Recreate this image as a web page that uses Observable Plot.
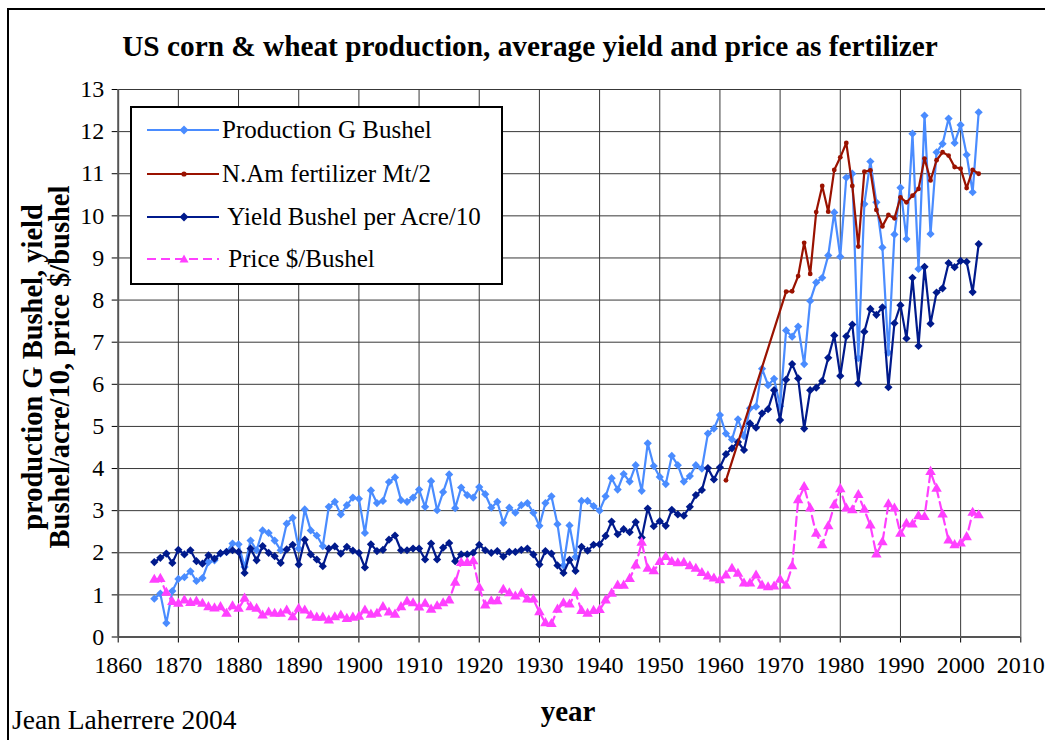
<!DOCTYPE html>
<html>
<head>
<meta charset="utf-8">
<script src="https://cdn.jsdelivr.net/npm/d3@7"></script>
<script src="https://cdn.jsdelivr.net/npm/@observablehq/plot@0.6"></script>
<style>
  html, body { margin: 0; padding: 0; background: #fff; }
  #wrap { position: relative; width: 1045px; height: 740px; overflow: hidden; font-family: "Liberation Serif", "Times New Roman", serif; color: #000; }
  #frame { position: absolute; left: 7px; top: 8px; width: 1100px; height: 800px; border-left: 2px solid #000; border-top: 2px solid #000; }
  #chart { position: absolute; left: 0; top: 0; }
  .txt { position: absolute; white-space: nowrap; }
  #title { left: 530px; top: 46px; transform: translate(-50%, -50%); font-weight: bold; font-size: 29.3px; }
  #ylab { left: 46px; top: 367px; transform: translate(-50%, -50%) rotate(-90deg); font-weight: bold; font-size: 28.5px; line-height: 27px; text-align: center; }
  #xlab { left: 568px; top: 711px; transform: translate(-50%, -50%); font-weight: bold; font-size: 29px; }
  #caption { left: 12px; top: 720px; transform: translate(0, -50%); font-size: 27.5px; }
  #legend { position: absolute; left: 130px; top: 106px; width: 369px; height: 175px; border: 2px solid #000; background: #fff; }
  .lrow { position: absolute; left: 0; height: 30px; transform: translateY(-50%); display: flex; align-items: center; }
  .lrow svg { margin-left: 15px; }
  .lrow span { font-size: 25px; margin-left: 3px; font-family: "Liberation Serif", "Times New Roman", serif; }
</style>
</head>
<body>
<div id="wrap">
  <div id="frame"></div>
  <div id="chart"></div>
  <div id="title" class="txt">US corn &amp; wheat production, average yield and price as fertilizer</div>
  <div id="ylab" class="txt">production G Bushel, yield<br>Bushel/acre/10, price $/bushel</div>
  <div id="xlab" class="txt">year</div>
  <div id="caption" class="txt">Jean Laherrere 2004</div>
  <div id="legend"></div>
</div>
<script>
// ---------- data ----------
const years = [1866,1867,1868,1869,1870,1871,1872,1873,1874,1875,1876,1877,1878,1879,1880,1881,1882,1883,1884,1885,1886,1887,1888,1889,1890,1891,1892,1893,1894,1895,1896,1897,1898,1899,1900,1901,1902,1903,1904,1905,1906,1907,1908,1909,1910,1911,1912,1913,1914,1915,1916,1917,1918,1919,1920,1921,1922,1923,1924,1925,1926,1927,1928,1929,1930,1931,1932,1933,1934,1935,1936,1937,1938,1939,1940,1941,1942,1943,1944,1945,1946,1947,1948,1949,1950,1951,1952,1953,1954,1955,1956,1957,1958,1959,1960,1961,1962,1963,1964,1965,1966,1967,1968,1969,1970,1971,1972,1973,1974,1975,1976,1977,1978,1979,1980,1981,1982,1983,1984,1985,1986,1987,1988,1989,1990,1991,1992,1993,1994,1995,1996,1997,1998,1999,2000,2001,2002,2003];

const production = [0.91,1.03,0.33,1.09,1.38,1.42,1.56,1.33,1.40,1.78,1.82,1.98,2.02,2.22,2.20,1.66,2.29,2.06,2.53,2.47,2.29,2.06,2.69,2.83,2.10,3.03,2.53,2.41,2.16,3.09,3.21,2.91,3.13,3.31,3.28,2.47,3.48,3.18,3.23,3.68,3.79,3.25,3.21,3.31,3.50,3.09,3.70,3.01,3.44,3.86,3.06,3.55,3.37,3.31,3.56,3.39,3.07,3.21,2.71,3.07,2.95,3.13,3.18,2.95,2.64,3.18,3.34,2.68,1.70,2.65,1.90,3.23,3.23,3.11,3.00,3.34,3.77,3.50,3.87,3.69,4.08,3.47,4.60,4.06,3.80,3.63,4.30,4.08,3.69,3.82,4.08,4.00,4.83,4.95,5.27,4.83,4.69,5.17,4.77,5.43,5.47,6.37,5.98,6.13,5.48,7.28,7.13,7.37,6.48,7.98,8.42,8.53,9.06,10.08,9.03,10.91,11.00,6.62,10.28,11.29,10.32,9.25,6.75,9.56,10.67,9.45,11.95,8.74,12.38,9.57,11.51,11.71,12.31,11.73,12.16,11.45,10.56,12.46];

const yieldPerAcre = [1.78,1.88,1.98,1.76,2.07,1.96,2.06,1.80,1.74,1.94,1.86,1.99,2.02,2.06,2.02,1.52,2.10,1.82,2.16,2.00,1.92,1.76,2.08,2.19,1.72,2.31,1.96,1.84,1.68,2.10,2.15,1.98,2.14,2.05,2.00,1.65,2.20,2.04,2.07,2.31,2.41,2.06,2.06,2.10,2.10,1.84,2.22,1.84,2.12,2.23,1.80,1.96,1.96,2.00,2.19,2.06,2.00,2.04,1.91,2.02,2.02,2.07,2.10,1.96,1.72,2.04,1.98,1.70,1.52,1.83,1.57,2.14,2.05,2.19,2.20,2.40,2.74,2.44,2.56,2.49,2.73,2.36,3.05,2.63,2.75,2.64,3.02,2.91,2.88,3.09,3.37,3.49,4.01,3.74,4.03,4.34,4.48,4.63,4.44,5.07,4.97,5.31,5.41,5.86,5.15,6.11,6.48,6.14,4.95,5.86,5.92,6.08,6.63,7.16,6.20,7.14,7.42,6.02,7.25,7.79,7.65,7.83,5.93,7.45,7.88,7.09,8.53,6.91,8.79,7.44,8.18,8.28,8.88,8.78,8.93,8.91,8.19,9.33];

const price = [1.36,1.38,1.05,0.83,0.79,0.87,0.81,0.84,0.79,0.71,0.68,0.71,0.55,0.73,0.67,0.91,0.71,0.67,0.51,0.58,0.55,0.55,0.63,0.47,0.67,0.63,0.51,0.46,0.46,0.39,0.47,0.51,0.43,0.46,0.48,0.63,0.53,0.55,0.71,0.58,0.53,0.71,0.84,0.80,0.70,0.79,0.65,0.73,0.80,0.87,1.29,1.76,1.76,1.80,1.17,0.75,0.85,0.85,1.12,1.04,0.96,1.03,0.89,0.89,0.59,0.33,0.31,0.65,0.80,0.77,1.05,0.62,0.55,0.62,0.64,0.87,1.03,1.22,1.22,1.38,1.70,2.24,1.62,1.56,1.78,1.90,1.78,1.75,1.76,1.68,1.62,1.52,1.44,1.39,1.35,1.46,1.62,1.50,1.27,1.27,1.46,1.22,1.18,1.20,1.36,1.22,1.68,3.25,3.56,3.05,2.45,2.18,2.63,3.13,3.51,3.05,3.01,3.37,3.02,2.65,1.96,2.25,3.15,3.05,2.45,2.69,2.67,2.87,2.85,3.92,3.52,2.91,2.29,2.18,2.22,2.37,2.95,2.89];

const fertYears = [1961,1971,1972,1973,1974,1975,1976,1977,1978,1979,1980,1981,1982,1983,1984,1985,1986,1987,1988,1989,1990,1991,1992,1993,1994,1995,1996,1997,1998,1999,2000,2001,2002,2003];
const fertilizer = [3.72,8.20,8.21,8.57,9.36,8.62,10.09,10.71,10.10,11.09,11.39,11.73,10.71,9.27,11.05,11.08,10.14,9.75,10.02,9.94,10.44,10.32,10.48,10.64,11.36,10.84,11.32,11.51,11.43,11.16,11.12,10.66,11.09,11.00];

const xTicks = [1860,1870,1880,1890,1900,1910,1920,1930,1940,1950,1960,1970,1980,1990,2000,2010];
const yTicks = [0,1,2,3,4,5,6,7,8,9,10,11,12,13];

const seriesNames = ["Production G Bushel", "N.Am fertilizer Mt/2", " Yield Bushel per Acre/10", " Price $/Bushel"];
const seriesColors = ["#4a8cff", "#9a1200", "#001a8c", "#ff40ff"];

// ---------- tables ----------
const prodData = years.map((y, i) => ({year: y, v: production[i]}));
const yieldData = years.map((y, i) => ({year: y, v: yieldPerAcre[i]}));
const priceData = years.map((y, i) => ({year: y, v: price[i]}));
const fertData = fertYears.map((y, i) => ({year: y, v: fertilizer[i]}));

const gridX = xTicks.slice(1);
const gridY = yTicks.slice(1);
const SERIF = "'Liberation Serif', 'Times New Roman', serif";

const chart = Plot.plot({
  width: 1045,
  height: 740,
  marginLeft: 117.7,
  marginRight: 24.7,
  marginTop: 89,
  marginBottom: 103.5,
  style: {fontFamily: SERIF, fontSize: "24px", background: "transparent", color: "#000"},
  x: {domain: [1860, 2010], ticks: xTicks, tickFormat: d => String(d), tickSize: 6, tickPadding: 13, label: null},
  y: {domain: [0, 13], ticks: yTicks, tickSize: 6, tickPadding: 8, label: null},
  marks: [
    Plot.ruleY(gridY, {stroke: "#383838", strokeWidth: 1}),
    Plot.ruleX(gridX, {stroke: "#383838", strokeWidth: 1}),
    Plot.ruleX([1860], {stroke: "#555", strokeWidth: 2}),
    Plot.ruleY([0], {stroke: "#555", strokeWidth: 2}),
    // production
    Plot.line(prodData, {x: "year", y: "v", stroke: seriesColors[0], strokeWidth: 2.2}),
    Plot.dot(prodData, {x: "year", y: "v", symbol: "diamond2", r: 3.7, fill: seriesColors[0], stroke: "none"}),
    // yield
    Plot.line(yieldData, {x: "year", y: "v", stroke: seriesColors[2], strokeWidth: 2.2}),
    Plot.dot(yieldData, {x: "year", y: "v", symbol: "diamond2", r: 3.7, fill: seriesColors[2], stroke: "none"}),
    // price
    Plot.line(priceData, {x: "year", y: "v", stroke: seriesColors[3], strokeWidth: 2.2, strokeDasharray: "9,5"}),
    Plot.dot(priceData, {x: "year", y: "v", symbol: "triangle", r: 3.9, fill: seriesColors[3], stroke: "none"}),
    // fertilizer
    Plot.line(fertData, {x: "year", y: "v", stroke: seriesColors[1], strokeWidth: 2.2}),
    Plot.dot(fertData, {x: "year", y: "v", r: 2.4, fill: seriesColors[1], stroke: "none"})
  ]
});
chart.querySelectorAll("g, text").forEach(el => {
  if (el.tagName.toLowerCase() === "text" || el.hasAttribute("font-family")) {
    el.setAttribute("font-family", SERIF);
    el.style.fontFamily = SERIF;
  }
});
chart.querySelectorAll("text").forEach(t => { t.setAttribute("font-size", "24"); t.style.fontSize = "24px"; });
document.getElementById("chart").appendChild(chart);

// ---------- legend ----------
const legend = document.getElementById("legend");
const rowCenters = [22, 65.5, 109, 150.5];
const markerSvgs = [
  c => `<path d="M37,-4.5 L41.5,0 L37,4.5 L32.5,0 Z" fill="${c}"/>`,
  c => `<circle cx="37" cy="0" r="2.6" fill="${c}"/>`,
  c => `<path d="M37,-4.5 L41.5,0 L37,4.5 L32.5,0 Z" fill="${c}"/>`,
  c => `<path d="M37,-4.5 L41.5,3.5 L32.5,3.5 Z" fill="${c}"/>`
];
seriesNames.forEach((name, i) => {
  const row = document.createElement("div");
  row.className = "lrow";
  row.style.top = rowCenters[i] + "px";
  const dash = i === 3 ? ' stroke-dasharray="9,5"' : "";
  row.innerHTML = `<svg width="72" height="12" viewBox="0 -6 72 12"><line x1="0" y1="0" x2="72" y2="0" stroke="${seriesColors[i]}" stroke-width="2.2"${dash}/>${markerSvgs[i](seriesColors[i])}</svg><span style="white-space:pre">${name}</span>`;
  legend.appendChild(row);
});
</script>
</body>
</html>
